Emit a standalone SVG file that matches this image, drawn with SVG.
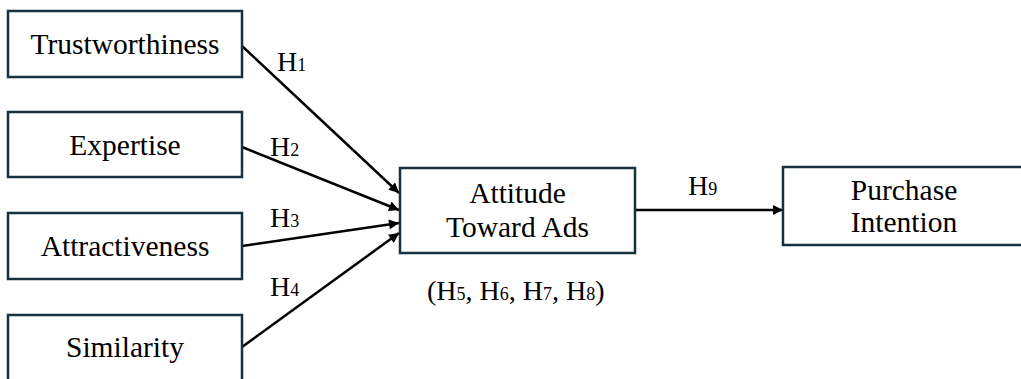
<svg xmlns="http://www.w3.org/2000/svg" width="1021" height="379" viewBox="0 0 1021 379">
<style>
.box{fill:#fff;stroke:#17313f;stroke-width:2.5}
text{font-family:'Liberation Serif',Tinos,'Times New Roman','DejaVu Serif',serif;fill:#000}
.t{font-size:29.5px;text-anchor:middle}
.h{font-size:28px}
.s{font-size:18px}
.c{stroke:#000;stroke-width:2.5;fill:none;marker-end:url(#ah)}
</style>
<defs>
<marker id="ah" viewBox="0 0 10 10" refX="10" refY="5" markerWidth="4.4" markerHeight="4" orient="auto" markerUnits="strokeWidth">
<path d="M0,0 L10,5 L0,10 Z" fill="#000"/>
</marker>
</defs>
<rect width="1021" height="379" fill="#fff"/>
<g id="connectors">
<line class="c" x1="242" y1="46" x2="399" y2="193"/>
<line class="c" x1="242" y1="147" x2="399" y2="210"/>
<line class="c" x1="242" y1="246" x2="399" y2="223"/>
<line class="c" x1="242" y1="347" x2="399" y2="233"/>
<line class="c" x1="635" y1="210" x2="783" y2="210"/>
<text class="h" x="277" y="71">H<tspan class="s">1</tspan></text>
<text class="h" x="270" y="156">H<tspan class="s">2</tspan></text>
<text class="h" x="270" y="227">H<tspan class="s">3</tspan></text>
<text class="h" x="270" y="296">H<tspan class="s">4</tspan></text>
<text class="h" x="688" y="195">H<tspan class="s">9</tspan></text>
<text class="h" x="427" y="300">(H<tspan class="s">5</tspan>, H<tspan class="s">6</tspan>, H<tspan class="s">7</tspan>, H<tspan class="s">8</tspan>)</text>
</g>
<g id="trustworthiness">
<rect class="box" x="8" y="11" width="234" height="66"/>
<text class="t" x="125" y="54">Trustworthiness</text>
</g>
<g id="expertise">
<rect class="box" x="8" y="112" width="234" height="65"/>
<text class="t" x="125" y="155">Expertise</text>
</g>
<g id="attractiveness">
<rect class="box" x="8" y="213" width="234" height="66"/>
<text class="t" x="125" y="256">Attractiveness</text>
</g>
<g id="similarity">
<rect class="box" x="8" y="315" width="234" height="80"/>
<text class="t" x="125" y="357">Similarity</text>
</g>
<g id="attitude">
<rect class="box" x="400" y="168" width="235" height="85"/>
<text class="t" x="517.5" y="203">Attitude</text>
<text class="t" x="517.5" y="237">Toward Ads</text>
</g>
<g id="purchase">
<rect class="box" x="783" y="167" width="240" height="78"/>
<text class="t" x="904" y="200">Purchase</text>
<text class="t" x="904" y="232">Intention</text>
</g>
</svg>
